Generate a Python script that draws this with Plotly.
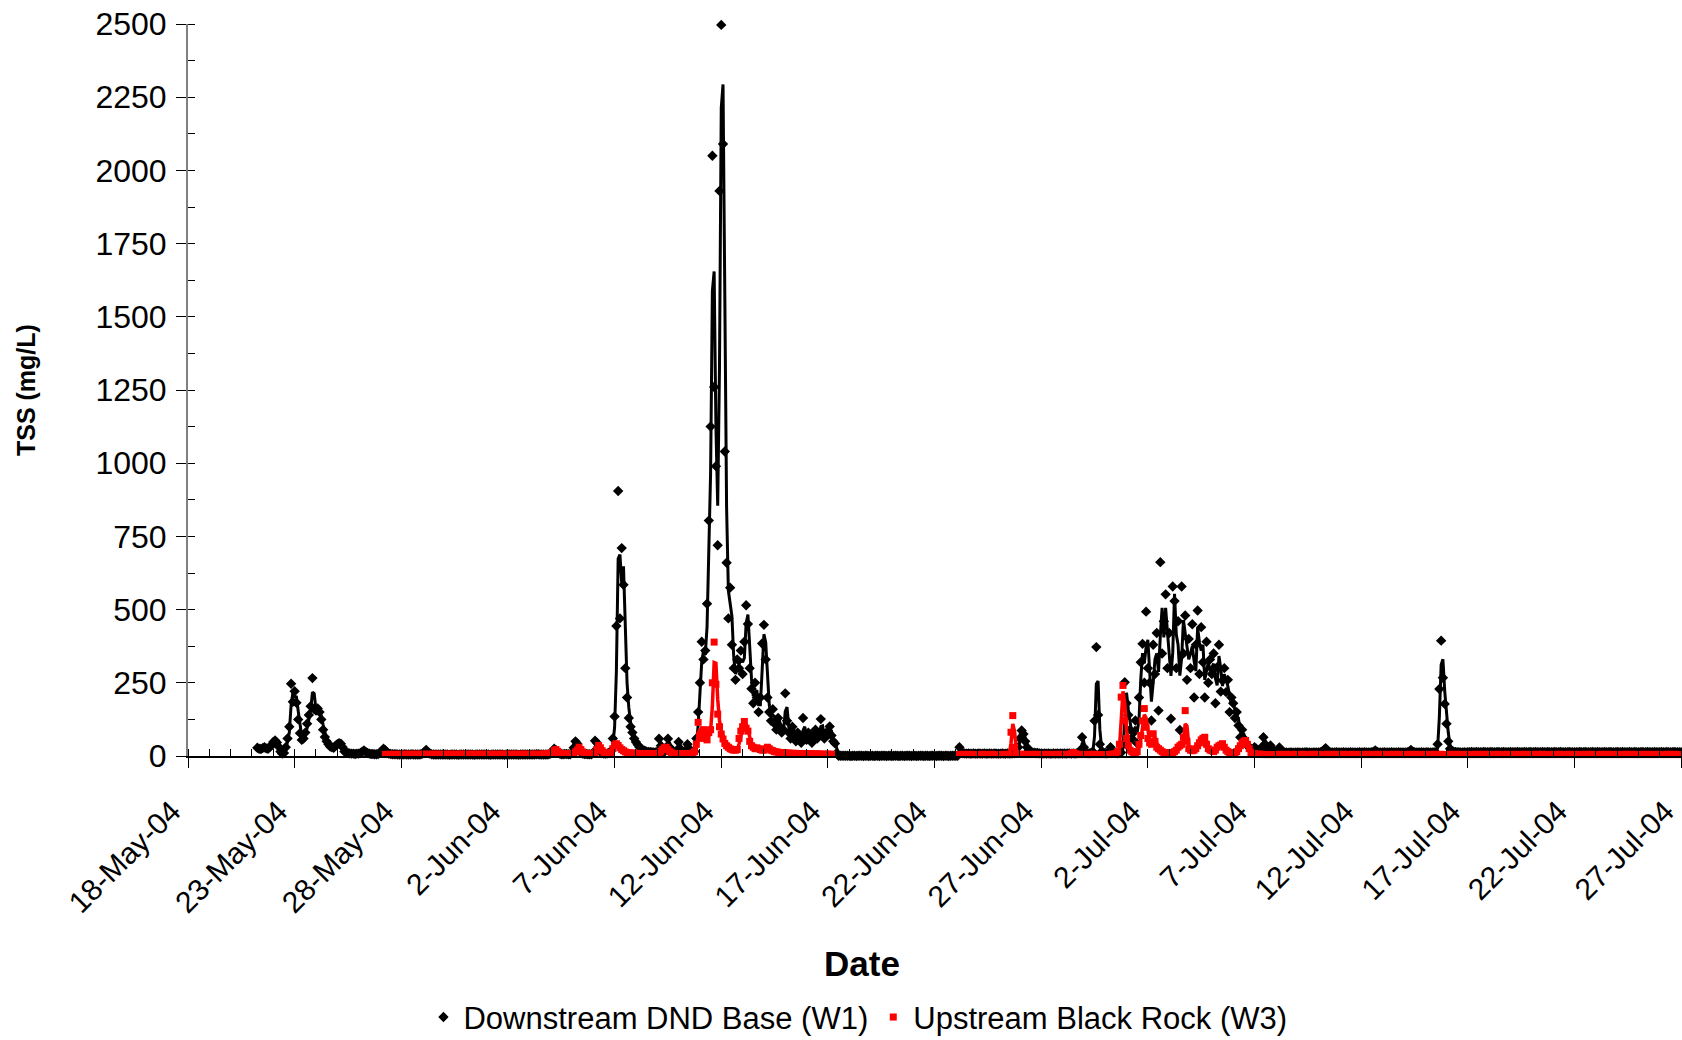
import pandas as pd
import plotly.graph_objects as go

FONT = "Liberation Sans, Arial, sans-serif"

# Logger series, one reading every 2 hours
SAMPLE_STEP = "2h"
W1_START = "2004-05-21 06:00"
W3_START = "2004-05-27 06:00"

W1_NAME = "Downstream DND Base (W1)"
W3_NAME = "Upstream Black Rock (W3)"

# TSS (mg/L), Downstream DND Base (W1)
w1_tss = [
    # 21-May (from 06:00)
    28, 25, 24, 27, 30, 26, 25, 30, 38,
    # 22-May
    48, 53, 46, 32, 15, 8, 10, 30, 60, 100, 247, 185,
    # 23-May
    221, 182, 125, 78, 55, 60, 80, 110, 140, 170, 266, 160,
    # 24-May
    155, 162, 150, 125, 90, 65, 50, 40, 32, 30, 28, 35,
    # 25-May
    40, 44, 42, 30, 15, 12, 10, 9, 8, 8, 7, 8,
    # 26-May
    8, 10, 15, 19, 14, 10, 8, 7, 7, 6, 6, 7,
    # 27-May
    10, 18, 25, 20, 12, 8, 7, 6, 6, 6, 5, 5,
    # 28-May
    5, 5, 6, 5, 5, 5, 6, 5, 5, 5, 5, 6,
    # 29-May
    8, 14, 21, 12, 8, 6, 5, 5, 5, 5, 5, 5,
    # 30-May
    5, 5, 5, 4, 5, 5, 5, 5, 4, 5, 5, 5,
    # 31-May
    5, 5, 5, 5, 5, 4, 5, 5, 5, 5, 5, 5,
    # 1-Jun
    5, 5, 4, 5, 5, 5, 5, 5, 5, 5, 4, 5,
    # 2-Jun
    5, 5, 5, 5, 5, 5, 4, 5, 5, 5, 5, 5,
    # 3-Jun
    5, 5, 5, 5, 6, 6, 5, 5, 5, 5, 5, 6,
    # 4-Jun
    8, 15, 25, 20, 12, 8, 6, 6, 7, 7, 6, 6,
    # 5-Jun
    10, 28, 50, 42, 25, 12, 8, 7, 7, 6, 6, 6,
    # 6-Jun
    12, 52, 45, 28, 15, 10, 8, 8, 9, 10, 18, 60,
    # 7-Jun
    135, 444, 905, 470, 710, 585, 300, 200, 130, 100, 80, 60,
    # 8-Jun
    48, 38, 30, 25, 20, 18, 15, 14, 14, 13, 12, 12,
    # 9-Jun
    15, 59, 35, 18, 14, 30, 59, 30, 16, 12, 10, 20,
    # 10-Jun
    48, 25, 14, 10, 20, 40, 25, 12, 9, 15, 60, 150,
    # 11-Jun
    250, 390, 330, 360, 520, 804, 1125, 2050, 1260, 990, 720, 1930,
    # 12-Jun
    2497, 2090, 1040, 660, 470, 575, 380, 300, 260, 330, 300, 360,
    # 13-Jun
    280, 390, 515, 451, 300, 230, 180, 250, 200, 150, 200, 384,
    # 14-Jun
    448, 330, 200, 150, 120, 160, 110, 90, 130, 100, 80, 90,
    # 15-Jun
    214, 120, 80, 60, 100, 70, 50, 80, 60, 45, 130, 70,
    # 16-Jun
    55, 80, 60, 45, 70, 90, 60, 75, 126, 80, 60, 70,
    # 17-Jun
    85, 101, 70, 50, 43, 10, 1, 1, 1, 1, 1, 1,
    # 18-Jun
    1, 0, 1, 1, 0, 1, 1, 1, 0, 1, 1, 0,
    # 19-Jun
    1, 1, 0, 1, 1, 0, 1, 1, 1, 0, 1, 1,
    # 20-Jun
    0, 1, 1, 1, 0, 1, 1, 0, 1, 1, 1, 0,
    # 21-Jun
    1, 1, 0, 1, 1, 1, 0, 1, 1, 0, 1, 1,
    # 22-Jun
    1, 0, 1, 1, 1, 0, 1, 1, 0, 1, 1, 1,
    # 23-Jun
    1, 1, 30, 12, 10, 9, 8, 9, 8, 8, 9, 8,
    # 24-Jun
    8, 9, 8, 8, 9, 8, 8, 9, 8, 8, 9, 8,
    # 25-Jun
    8, 8, 9, 8, 8, 9, 8, 8, 9, 9, 10, 30,
    # 26-Jun
    60, 87, 75, 50, 30, 20, 15, 12, 11, 10, 10, 9,
    # 27-Jun
    9, 8, 9, 8, 9, 8, 8, 9, 8, 9, 8, 9,
    # 28-Jun
    8, 9, 8, 9, 9, 8, 9, 8, 9, 10, 20, 64,
    # 29-Jun
    30, 12, 10, 9, 10, 15, 120, 372, 140, 40, 15, 12,
    # 30-Jun
    10, 9, 15, 30, 20, 12, 10, 9, 10, 12, 40, 252,
    # 1-Jul
    180, 140, 90, 60, 80, 121, 43, 200, 320, 383, 250, 493,
    # 2-Jul
    300, 250, 121, 380, 280, 420, 155, 662, 350, 460, 552, 300,
    # 3-Jul
    420, 127, 579, 529, 300, 460, 89, 579, 350, 480, 260, 400,
    # 4-Jul
    300, 450, 200, 380, 497, 280, 440, 320, 200, 390, 250, 330,
    # 5-Jul
    280, 350, 180, 303, 380, 220, 258, 300, 218, 260, 150, 200,
    # 6-Jul
    180, 130, 150, 104, 64, 90, 60, 45, 35, 30, 25, 20,
    # 7-Jul
    30, 25, 20, 18, 30, 64, 40, 25, 20, 36, 22, 15,
    # 8-Jul
    12, 12, 29, 20, 14, 12, 12, 11, 12, 12, 11, 12,
    # 9-Jul
    12, 12, 11, 12, 12, 13, 12, 12, 11, 12, 12, 12,
    # 10-Jul
    12, 13, 15, 20, 27, 18, 14, 12, 12, 12, 13, 12,
    # 11-Jul
    12, 12, 13, 12, 12, 12, 13, 12, 12, 12, 12, 13,
    # 12-Jul
    12, 12, 13, 12, 12, 12, 13, 15, 19, 14, 12, 12,
    # 13-Jul
    12, 13, 12, 12, 12, 13, 12, 12, 12, 13, 12, 12,
    # 14-Jul
    12, 12, 13, 15, 21, 15, 13, 12, 12, 12, 13, 12,
    # 15-Jul
    12, 13, 12, 12, 12, 13, 12, 40, 229, 394, 267, 178,
    # 16-Jul
    110, 50, 25, 18, 15, 14, 13, 13, 12, 12, 13, 12,
    # 17-Jul
    13, 13, 14, 13, 13, 14, 13, 13, 13, 14, 13, 13,
    # 18-Jul
    13, 14, 13, 13, 13, 14, 13, 13, 14, 13, 13, 13,
    # 19-Jul
    14, 13, 13, 13, 14, 13, 13, 13, 14, 13, 13, 14,
    # 20-Jul
    13, 13, 14, 13, 13, 13, 14, 13, 13, 14, 13, 13,
    # 21-Jul
    13, 14, 13, 13, 14, 13, 13, 13, 13, 14, 13, 13,
    # 22-Jul
    13, 13, 13, 14, 13, 13, 14, 13, 13, 13, 14, 13,
    # 23-Jul
    13, 14, 13, 13, 13, 14, 13, 13, 14, 13, 13, 13,
    # 24-Jul
    14, 13, 13, 14, 13, 13, 13, 14, 13, 13, 14, 13,
    # 25-Jul
    13, 13, 14, 13, 13, 14, 13, 13, 13, 14, 13, 13,
    # 26-Jul
    13, 14, 13, 13, 14, 13, 13, 13, 14, 13, 13, 13,
    # 27-Jul 00:00
    13,
]

# TSS (mg/L), Upstream Black Rock (W3); None = no reading
w3_tss = [
    # 27-May (from 06:00)
    5, 5, 6, 5, 5, 6, 5, 5, 6,
    # 28-May
    6, 5, 6, 6, 5, 6, 6, 5, 6, 6, 5, 6,
    # 29-May
    6, 6, 5, 6, 6, 5, 6, 6, 6, 5, 6, 6,
    # 30-May
    6, 5, 6, 6, 6, 5, 6, 6, 5, 6, 6, 6,
    # 31-May
    6, 6, 5, 6, 6, 6, 5, 6, 6, 6, 5, 6,
    # 1-Jun
    6, 6, 6, 5, 6, 6, 6, 5, 6, 6, 6, 6,
    # 2-Jun
    6, 5, 6, 6, 6, 6, 5, 6, 6, 6, 6, 5,
    # 3-Jun
    6, 6, 6, 6, 5, 6, 6, 6, 7, 7, 7, 8,
    # 4-Jun
    9, 12, 18, 22, 16, 10, 8, 7, 7, 7, 7, 7,
    # 5-Jun
    7, 9, 14, 20, 30, 22, 14, 10, 8, 8, 8, 8,
    # 6-Jun
    8, 12, 22, 36, 28, 18, 12, 10, 9, 9, 12, 25,
    # 7-Jun
    38, 42, 36, 28, 22, 18, 14, 12, 11, 10, 10, 9,
    # 8-Jun
    9, 9, 8, 8, 8, 8, 8, 8, 8, 8, 8, 8,
    # 9-Jun
    8, 10, 15, 22, 28, 30, 22, 15, 11, 9, 8, 8,
    # 10-Jun
    8, 8, 8, 8, 8, 8, 8, 8, 10, 15, 40, 115,
    # 11-Jun
    70, 60, 90, 70, 55, 80, 90, 250, 389, 245, 143, 100,
    # 12-Jun
    75, 58, 43, 35, 30, 25, 22, 20, 20, 22, 60, 85,
    # 13-Jun
    100, 118, 95, 85, 50, 35, 30, 25, 28, 25, 22, 20,
    # 14-Jun
    20, 25, 30, 25, 20, 18, 15, 14, 13, 12, 12, 11,
    # 15-Jun
    10, 10, 10, 9, 9, 9, 9, 8, 8, 8, 8, 8,
    # 16-Jun
    8, 8, 7, 7, 7, 7, 7, 7, 6, 6, 6, 6,
    # 17-Jun
    6, 6, 6, None, None, None, None, None, None, None, None, None,
    # 18-Jun
    None, None, None, None, None, None, None, None, None, None, None, None,
    # 19-Jun
    None, None, None, None, None, None, None, None, None, None, None, None,
    # 20-Jun
    None, None, None, None, None, None, None, None, None, None, None, None,
    # 21-Jun
    None, None, None, None, None, None, None, None, None, None, None, None,
    # 22-Jun
    None, None, None, None, None, None, None, None, None, None, None, None,
    # 23-Jun
    None, None, 5, 5, 6, 5, 5, 5, 6, 5, 5, 5,
    # 24-Jun
    5, 5, 5, 6, 5, 5, 5, 5, 6, 5, 5, 5,
    # 25-Jun
    5, 5, 5, 6, 5, 5, 6, 81, 138, 30, 10, 6,
    # 26-Jun
    6, 5, 5, 6, 5, 5, 5, 6, 5, 5, 6, 5,
    # 27-Jun
    5, 5, 6, 5, 5, 5, 6, 5, 5, 5, 6, 5,
    # 28-Jun
    5, 6, 5, 5, 6, 8, 12, 8, 6, 5, 5, 6,
    # 29-Jun
    5, 5, 5, 6, 5, 5, 6, 5, 5, 5, 5, 5,
    # 30-Jun
    5, 5, 5, 6, 6, 6, 8, 15, 40, 201, 241, 120,
    # 1-Jul
    60, 35, 20, 15, 12, 10, 15, 40, 70, 120, 162, 98,
    # 2-Jul
    60, 45, 40, 76, 50, 30, 25, 20, 15, 12, 12, 10,
    # 3-Jul
    10, 10, 12, 15, 20, 30, 35, 40, 64, 155, 50, 25,
    # 4-Jul
    20, 18, 20, 25, 35, 45, 55, 60, 64, 40, 25, 20,
    # 5-Jul
    18, 15, 20, 30, 35, 38, 42, 30, 20, 15, 12, 10,
    # 6-Jul
    10, 12, 15, 25, 35, 45, 50, 53, 40, 25, 12, 8,
    # 7-Jul
    7, 6, 6, 6, 6, 5, 5, 5, 5, 5, 5, 5,
    # 8-Jul
    5, 5, 6, 5, 5, 5, 6, 5, 5, 5, 5, 6,
    # 9-Jul
    5, 5, 5, 6, 5, 5, 5, 5, 6, 5, 5, 5,
    # 10-Jul
    6, 5, 5, 5, 5, 6, 5, 5, 5, 5, 6, 5,
    # 11-Jul
    5, 5, 6, 5, 5, 5, 5, 6, 5, 5, 5, 5,
    # 12-Jul
    6, 5, 5, 5, 6, 5, 5, 5, 5, 6, 5, 5,
    # 13-Jul
    5, 6, 5, 5, 5, 5, 6, 5, 5, 5, 6, 5,
    # 14-Jul
    5, 5, 5, 6, 5, 5, 5, 6, 5, 5, 5, 5,
    # 15-Jul
    6, 5, 5, 5, 5, 6, 5, 5, 5, 6, 5, 5,
    # 16-Jul
    5, 5, 6, 5, 5, 5, 6, 5, 5, 5, 5, 6,
    # 17-Jul
    5, 5, 5, 5, 6, 5, 5, 5, 6, 5, 5, 5,
    # 18-Jul
    6, 5, 5, 5, 5, 6, 5, 5, 5, 5, 6, 5,
    # 19-Jul
    5, 5, 6, 5, 5, 5, 5, 6, 5, 5, 5, 6,
    # 20-Jul
    5, 5, 5, 6, 5, 5, 6, 5, 5, 5, 5, 5,
    # 21-Jul
    6, 5, 5, 5, 6, 5, 5, 5, 5, 6, 5, 5,
    # 22-Jul
    5, 6, 5, 5, 5, 5, 6, 5, 5, 5, 6, 5,
    # 23-Jul
    5, 5, 5, 6, 5, 5, 5, 6, 5, 5, 5, 5,
    # 24-Jul
    6, 5, 5, 5, 5, 6, 5, 5, 5, 6, 5, 5,
    # 25-Jul
    5, 5, 6, 5, 5, 5, 6, 5, 5, 5, 5, 6,
    # 26-Jul
    5, 5, 5, 5, 6, 5, 5, 5, 6, 5, 5, 5,
    # 27-Jul 00:00
    5,
]

# Axis ticks
X_START = "2004-05-18"
X_END = "2004-07-27 01:00"
TICK_DATES = ["2004-05-18", "2004-05-23", "2004-05-28", "2004-06-02", "2004-06-07",
              "2004-06-12", "2004-06-17", "2004-06-22", "2004-06-27", "2004-07-02",
              "2004-07-07", "2004-07-12", "2004-07-17", "2004-07-22", "2004-07-27"]
TICK_TEXT = ["18-May-04", "23-May-04", "28-May-04", "2-Jun-04", "7-Jun-04",
             "12-Jun-04", "17-Jun-04", "22-Jun-04", "27-Jun-04", "2-Jul-04",
             "7-Jul-04", "12-Jul-04", "17-Jul-04", "22-Jul-04", "27-Jul-04"]
Y_TICKS = [0, 250, 500, 750, 1000, 1250, 1500, 1750, 2000, 2250, 2500]


def moving_average(values, period=2):
    """Trailing moving average, blank where a window holds a missing reading."""
    out = []
    for i in range(len(values)):
        window = values[max(0, i - period + 1): i + 1]
        if i < period - 1 or any(v is None for v in window):
            out.append(None)
        else:
            out.append(sum(window) / period)
    return out


w1_time = pd.date_range(W1_START, periods=len(w1_tss), freq=SAMPLE_STEP)
w3_time = pd.date_range(W3_START, periods=len(w3_tss), freq=SAMPLE_STEP)

fig = go.Figure()

fig.add_trace(go.Scatter(
    x=w1_time, y=w1_tss, mode="markers", name=W1_NAME,
    marker=dict(symbol="diamond", size=8, color="black"),
    cliponaxis=False,
))
fig.add_trace(go.Scatter(
    x=w1_time, y=moving_average(w1_tss), mode="lines", showlegend=False,
    line=dict(color="black", width=3), connectgaps=False, hoverinfo="skip",
))
fig.add_trace(go.Scatter(
    x=w3_time, y=w3_tss, mode="markers", name=W3_NAME,
    marker=dict(symbol="square", size=7, color="#ff0000"),
    cliponaxis=False,
))
fig.add_trace(go.Scatter(
    x=w3_time, y=moving_average(w3_tss), mode="lines", showlegend=False,
    line=dict(color="#ff0000", width=3.5), connectgaps=False, hoverinfo="skip",
))

fig.update_xaxes(
    type="date", range=[X_START, X_END],
    tickmode="array", tickvals=TICK_DATES, ticktext=TICK_TEXT,
    tickangle=-45, tickfont=dict(family=FONT, size=30, color="black"),
    ticklabelstandoff=14, ticklabelshift=-16,
    ticks="outside", ticklen=10, tickwidth=1, tickcolor="black",
    showline=True, linecolor="black", linewidth=1.5,
    showgrid=False, zeroline=False,
    minor=dict(ticks="inside", ticklen=7, tickwidth=1, tickcolor="black",
               dtick=86400000, tick0=X_START, showgrid=False),
)
fig.update_yaxes(
    range=[0, 2500], tickmode="array", tickvals=Y_TICKS,
    tickfont=dict(family=FONT, size=32, color="black"),
    ticklabelstandoff=3,
    ticks="outside", ticklen=10, tickwidth=1, tickcolor="black",
    showline=True, linecolor="#808080", linewidth=2,
    showgrid=False, zeroline=False,
    minor=dict(ticks="inside", ticklen=7, tickwidth=1, tickcolor="black",
               dtick=125, tick0=0, showgrid=False),
)

fig.update_layout(
    width=1682, height=1040,
    margin=dict(l=188, r=0, t=24, b=284, autoexpand=False),
    paper_bgcolor="white", plot_bgcolor="white",
    font=dict(family=FONT, color="black"),
    showlegend=True,
    legend=dict(
        orientation="h", x=0.1576, xanchor="left", y=-0.394, yanchor="bottom",
        font=dict(family=FONT, size=31, color="black"),
        bgcolor="rgba(0,0,0,0)", itemsizing="trace",
    ),
    annotations=[
        dict(text="<b>TSS (mg/L)</b>", textangle=-90, xref="paper", yref="paper",
             x=-0.1084, y=0.5, xanchor="center", yanchor="middle", showarrow=False,
             font=dict(family=FONT, size=25, color="black")),
        dict(text="<b>Date</b>", xref="paper", yref="paper",
             x=0.451, y=-0.284, xanchor="center", yanchor="middle", showarrow=False,
             font=dict(family=FONT, size=35, color="black")),
    ],
)

fig.write_html("out.html")
